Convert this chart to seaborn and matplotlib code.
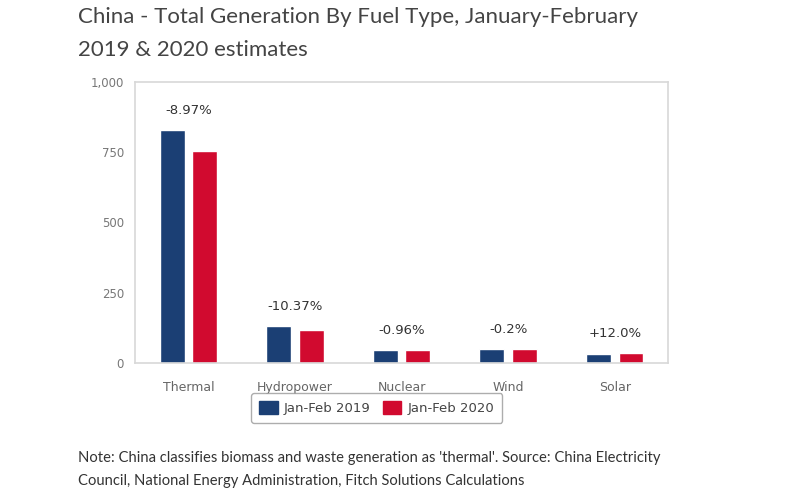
import matplotlib
matplotlib.use("Agg")
import matplotlib.pyplot as plt
import numpy as np
import pandas as pd
import seaborn as sns

fuels = ["Thermal", "Hydropower", "Nuclear", "Wind", "Solar"]
gen_2019 = [829, 133, 47.5, 52, 33.5]
gen_2020 = [755, 119, 47, 52, 37.5]
changes = ["-8.97%", "-10.37%", "-0.96%", "-0.2%", "+12.0%"]
series = ["Jan-Feb 2019", "Jan-Feb 2020"]
colors = ["#1b3f74", "#d10a2f"]

df = pd.DataFrame({
    "Fuel": fuels * 2,
    "Generation": gen_2019 + gen_2020,
    "Period": [series[0]] * 5 + [series[1]] * 5,
})

sns.set_style("white")
plt.rcParams["font.family"] = ["DejaVu Sans"]

fig = plt.figure(figsize=(8, 4.97), dpi=100)
ax = fig.add_axes([0.169, 0.269, 0.666, 0.567])

sns.barplot(data=df, x="Fuel", y="Generation", hue="Period", order=fuels,
            hue_order=series, palette=colors, width=0.61, gap=0.235,
            saturation=1, ax=ax, legend=False)

ax.set_ylim(0, 1000)
ax.set_xlim(-0.5, 4.5)
ax.set_yticks([0, 250, 500, 750, 1000])
ax.set_yticklabels(["0", "250", "500", "750", "1,000"])
ax.set_xlabel("")
ax.set_ylabel("")
ax.tick_params(axis="y", length=0, labelsize=8.5, labelcolor="#777777", pad=8)
ax.tick_params(axis="x", which="major", length=0, labelsize=9,
               labelcolor="#666666", pad=13)
ax.set_xticks(np.arange(-0.5, 5.0, 1.0), minor=True)
ax.tick_params(axis="x", which="minor", length=5, color="#cccccc", width=1)
for s in ax.spines.values():
    s.set_color("#d8d8d8")
    s.set_linewidth(1.2)

for i, lab in enumerate(changes):
    top = max(gen_2019[i], gen_2020[i])
    ax.annotate(lab, (i, top), xytext=(0, 14), textcoords="offset points",
                ha="center", va="center", fontsize=9.5, color="#333333")

handles = [plt.Rectangle((0, 0), 1, 1, color=c) for c in colors]
leg = fig.legend(handles, series, loc="center", bbox_to_anchor=(0.471, 0.179),
                 ncol=2, frameon=True, fontsize=9.5, handlelength=1.4,
                 handleheight=1.1, columnspacing=0.9, handletextpad=0.5,
                 borderpad=0.6)
leg.get_frame().set_edgecolor("#999999")
leg.get_frame().set_linewidth(1)
for t in leg.get_texts():
    t.set_color("#444444")

fig.text(0.0975, 0.965, "China - Total Generation By Fuel Type, January-February",
         fontsize=16, family="Lato", color="#444444", va="center")
fig.text(0.0975, 0.9, "2019 & 2020 estimates",
         fontsize=16, family="Lato", color="#444444", va="center")

fig.text(0.0975, 0.078,
         "Note: China classifies biomass and waste generation as 'thermal'. Source: China Electricity",
         fontsize=10.6, family="Lato", color="#333333", va="center")
fig.text(0.0975, 0.032,
         "Council, National Energy Administration, Fitch Solutions Calculations",
         fontsize=10.6, family="Lato", color="#333333", va="center")

fig.savefig("out.png", dpi=100, facecolor="white")
